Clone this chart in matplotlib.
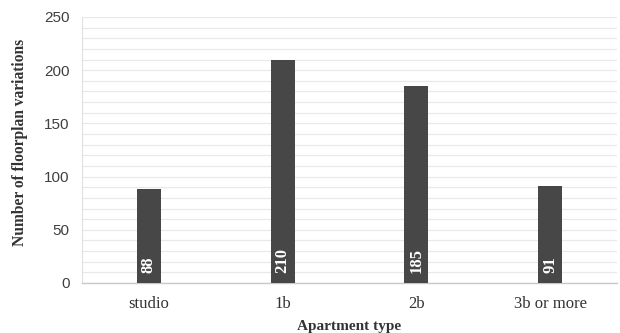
import matplotlib
matplotlib.use("Agg")
import matplotlib.pyplot as plt
from matplotlib.ticker import MultipleLocator

categories = ["studio", "1b", "2b", "3b or more"]
values = [88, 210, 185, 91]

fig = plt.figure(figsize=(6.2, 3.33), dpi=100)
ax = fig.add_axes([82/620, 1-283/333, (617-82)/620, (283-17)/333])

x = range(len(categories))
ax.bar(x, values, width=0.18, color="#474747", zorder=3)
ax.set_xlim(-0.5, len(categories) - 0.5)
ax.set_ylim(0, 250)
ax.yaxis.set_major_locator(MultipleLocator(50))
ax.yaxis.set_minor_locator(MultipleLocator(10))
ax.grid(axis="y", which="both", color="#e8e8e8", linewidth=0.9, zorder=0)
ax.set_axisbelow(True)

for s in ["top", "right"]:
    ax.spines[s].set_visible(False)
ax.spines["left"].set_color("#e0e0e0")
ax.spines["bottom"].set_color("#c8c8c8")
ax.spines["bottom"].set_linewidth(1.0)
ax.tick_params(axis="both", which="both", length=0)
ax.tick_params(axis="y", labelsize=11, labelcolor="#404040", pad=9)

ax.set_xticks(list(x))
ax.set_xticklabels(categories, family="Liberation Serif", fontsize=12, color="#333333")
ax.tick_params(axis="x", pad=9)
for lbl in ax.get_yticklabels():
    lbl.set_family("Liberation Sans")

for xi, v in zip(x, values):
    ax.annotate(str(v), xy=(xi, 0), xytext=(0, 7), textcoords="offset points",
                rotation=90, ha="center", va="bottom", color="white",
                fontsize=12, fontweight="bold", family="Liberation Serif", zorder=4)

ax.set_ylabel("Number of floorplan variations", family="Liberation Serif",
              fontweight="bold", fontsize=11.2, color="#333333")
ax.yaxis.set_label_coords(-0.1, 0.53)
ax.set_xlabel("Apartment type", family="Liberation Serif",
              fontweight="bold", fontsize=11, color="#333333", labelpad=6)

fig.savefig("out.png", dpi=100)
